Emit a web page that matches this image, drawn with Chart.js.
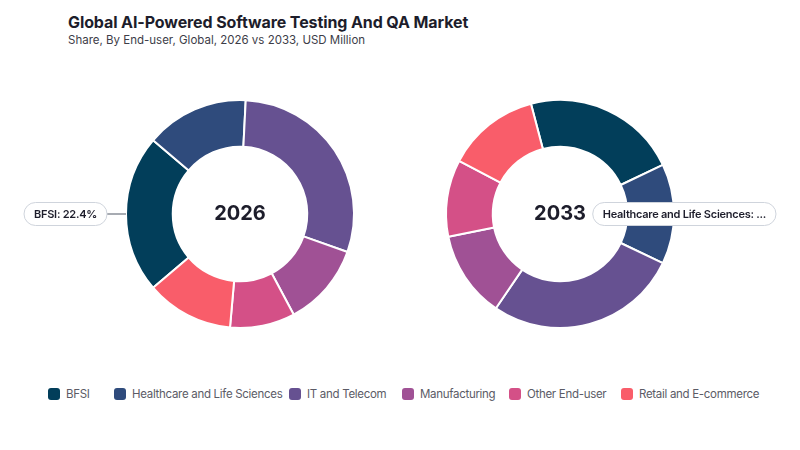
<!DOCTYPE html>
<html><head><meta charset="utf-8">
<script src="https://cdn.jsdelivr.net/npm/chart.js@4"></script>
<style>
html,body{margin:0;padding:0}
body{width:800px;height:450px;background:#fff;font-family:Inter,'DejaVu Sans',sans-serif;position:relative;overflow:hidden}
#title{position:absolute;left:68px;top:12px;font-size:16px;font-weight:700;color:#1d1d2b;letter-spacing:-0.1px}
#sub{position:absolute;left:68px;top:33px;font-size:11.5px;color:#3d3d48}
.c{position:absolute;top:99px;width:480px;height:230px}
#legend{position:absolute;top:387px;left:48px;display:flex;justify-content:flex-start;font-size:11.5px;letter-spacing:-0.3px;color:#5b5b66;white-space:nowrap}
.li{display:flex;align-items:center;gap:6px;flex:none}
.li:nth-child(1){width:66px}
.li:nth-child(2){width:175px}
.li:nth-child(3){width:113px}
.li:nth-child(4){width:107px}
.li:nth-child(5){width:112px}
.sw{width:12px;height:12px;border-radius:3px;flex:none}
</style></head>
<body>
<div id="title">Global AI-Powered Software Testing And QA Market</div>
<div id="sub">Share, By End-user, Global, 2026 vs 2033, USD Million</div>
<div class="c" style="left:0"><canvas id="c1"></canvas></div>
<div class="c" style="left:320px"><canvas id="c2"></canvas></div>
<div id="legend"></div>
<script>
const categories = ['BFSI','Healthcare and Life Sciences','IT and Telecom','Manufacturing','Other End-user','Retail and E-commerce'];
const values2026 = [22.4, 14.6, 29.6, 11.8, 9.2, 12.4];
const values2033 = [22.0, 14.2, 27.4, 12.3, 10.9, 13.2];
const years = ['2026','2033'];
const colors = ['#023e5a','#2f4b7c','#665191','#a05195','#d45087','#f95d6a'];

const calloutPlugin = {
  id:'callout',
  afterDatasetsDraw(chart, args, opts){
    const ctx = chart.ctx;
    const meta = chart.getDatasetMeta(0);
    const arc = meta.data[opts.index];
    const p = arc.getProps(['x','y','outerRadius','startAngle','endAngle'], true);
    ctx.save();
    ctx.font = '700 20px Inter';
    ctx.fillStyle = '#1d1d2b'; ctx.textAlign = 'center'; ctx.textBaseline = 'middle';
    ctx.fillText(opts.center, p.x, p.y);
    const mid = (p.startAngle + p.endAngle)/2;
    const dir = Math.cos(mid) >= 0 ? 1 : -1;
    const px = p.x + Math.cos(mid)*p.outerRadius, py = p.y + Math.sin(mid)*p.outerRadius;
    const lx = px + dir*22;
    ctx.strokeStyle = '#8a8f98'; ctx.lineWidth = 1.5;
    ctx.beginPath(); ctx.moveTo(px, py); ctx.lineTo(lx, py); ctx.stroke();
    ctx.font = '600 11px Inter';
    if ('letterSpacing' in ctx) ctx.letterSpacing = '-0.25px';
    const ds = chart.data.datasets[0].data;
    const tot = ds.reduce((a,b)=>a+b,0);
    let text = chart.data.labels[opts.index] + ': ' + (ds[opts.index]/tot*100).toFixed(1) + '%';
    if (text.length > 30) text = text.slice(0,30) + '...';
    const tw = ctx.measureText(text).width;
    const w = tw + 20, h = 23;
    let left = dir > 0 ? lx : lx - w;
    const W = chart.width;
    if (left < 24) left = 24;
    if (left + w > W - 24) left = W - 24 - w;
    const top = py - h/2;
    ctx.beginPath();
    ctx.roundRect(left, top, w, h, h/2);
    ctx.fillStyle = '#fff'; ctx.fill();
    ctx.strokeStyle = '#cfd4dc'; ctx.lineWidth = 1; ctx.stroke();
    ctx.fillStyle = '#1d1d2b'; ctx.textAlign = 'left';
    ctx.fillText(text, left + 10, py + 0.5);
    ctx.restore();
  }
};

function frac(arr, i){ const t = arr.reduce((a,b)=>a+b,0); return arr[i]/t; }
function startBefore(arr, i){ const t = arr.reduce((a,b)=>a+b,0); let s=0; for(let k=0;k<i;k++) s+=arr[k]; return s/t; }

function make(id, values, year, idx, targetDeg){
  const rot = targetDeg - (startBefore(values, idx) + frac(values, idx)/2)*360;
  new Chart(document.getElementById(id), {
    type:'doughnut',
    data:{labels:categories, datasets:[{data:values, backgroundColor:colors, borderColor:'#fff', borderWidth:2, hoverOffset:0}]},
    options:{
      responsive:true, maintainAspectRatio:false, animation:false,
      cutout:'59%', rotation:rot,
      layout:{padding:0},
      events:[],
      plugins:{legend:{display:false}, tooltip:{enabled:false}, callout:{index:idx, center:year}}
    },
    plugins:[calloutPlugin]
  });
}
make('c1', values2026, years[0], 0, 270);
make('c2', values2033, years[1], 1, 90);

const lg = document.getElementById('legend');
categories.forEach((c,i)=>{
  const d = document.createElement('div'); d.className='li';
  d.innerHTML = '<span class="sw" style="background:'+colors[i]+'"></span><span>'+c+'</span>';
  lg.appendChild(d);
});
</script>
</body></html>
